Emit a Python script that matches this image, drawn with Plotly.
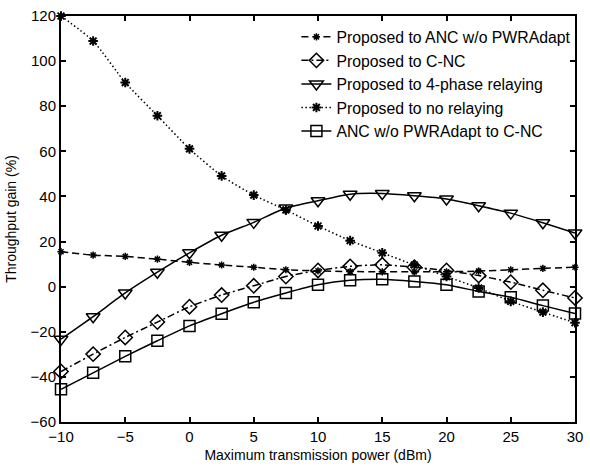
import plotly.graph_objects as go

x = [-10, -7.5, -5, -2.5, 0, 2.5, 5, 7.5, 10, 12.5, 15, 17.5, 20, 22.5, 25, 27.5, 30]

anc_wo_pwr = [15.5, 14.0, 13.4, 12.2, 10.8, 9.6, 8.6, 7.5, 7.0, 6.7, 6.6, 6.6, 6.6, 6.9, 7.5, 8.1, 8.6]
c_nc = [-37.6, -29.9, -22.5, -15.7, -8.9, -3.7, 0.4, 4.5, 7.2, 9.0, 9.7, 8.6, 7.2, 4.9, 2.0, -1.6, -5.0]
four_phase = [-23.3, -13.3, -2.8, 6.4, 15.0, 22.8, 28.5, 34.9, 38.1, 41.0, 41.3, 40.3, 38.9, 35.9, 32.6, 28.3, 23.8]
no_relay = [120.0, 108.9, 90.5, 75.8, 61.1, 49.1, 40.6, 34.0, 26.9, 20.4, 15.0, 9.6, 4.5, -0.6, -6.5, -11.3, -16.0]
anc_to_cnc = [-45.5, -38.2, -30.9, -24.0, -17.4, -12.0, -6.9, -2.8, 0.8, 2.8, 3.3, 2.3, 0.8, -2.1, -4.7, -8.4, -11.9]

names = ["Proposed to ANC w/o PWRAdapt", "Proposed to C-NC", "Proposed to 4-phase relaying",
         "Proposed to no relaying", "ANC w/o PWRAdapt to C-NC"]

FONT = "Liberation Sans, Arial, sans-serif"

fig = go.Figure()
fig.add_trace(go.Scatter(x=x, y=anc_wo_pwr, name=names[0], mode="lines+markers", cliponaxis=False,
                         line=dict(color="black", width=1.5, dash="7px,4px", shape="spline", smoothing=0.6),
                         marker=dict(symbol="asterisk-open", size=6, color="black", line=dict(width=1.5, color="black"))))
fig.add_trace(go.Scatter(x=x, y=c_nc, name=names[1], mode="lines+markers", cliponaxis=False,
                         line=dict(color="black", width=1.5, dash="7px,3px,2px,3px", shape="spline", smoothing=0.6),
                         marker=dict(symbol="diamond-open", size=11, color="black", line=dict(width=1.5, color="black"))))
fig.add_trace(go.Scatter(x=x, y=four_phase, name=names[2], mode="lines+markers", cliponaxis=False,
                         line=dict(color="black", width=1.5, shape="spline", smoothing=0.6),
                         marker=dict(symbol="triangle-down-open", size=12, color="black", line=dict(width=1.5, color="black"))))
fig.add_trace(go.Scatter(x=x, y=no_relay, name=names[3], mode="lines+markers", cliponaxis=False,
                         line=dict(color="black", width=1.5, dash="1.5px,2.5px", shape="spline", smoothing=0.6),
                         marker=dict(symbol="asterisk-open", size=8, color="black", line=dict(width=2, color="black"))))
fig.add_trace(go.Scatter(x=x, y=anc_to_cnc, name=names[4], mode="lines+markers", cliponaxis=False,
                         line=dict(color="black", width=1.5, shape="spline", smoothing=0.6),
                         marker=dict(symbol="square-open", size=11, color="black", line=dict(width=1.5, color="black"))))

axis_common = dict(showline=True, linecolor="black", linewidth=2, mirror="ticks",
                   ticks="inside", ticklen=5, tickwidth=1.5, tickcolor="black",
                   showgrid=False, zeroline=False,
                   tickfont=dict(family=FONT, size=15, color="black"),
                   title_font=dict(family=FONT, size=14, color="black"))

fig.update_xaxes(range=[-10, 30], tickvals=[-10, -5, 0, 5, 10, 15, 20, 25, 30],
                 title_text="Maximum transmission power (dBm)", title_standoff=6, **axis_common)
fig.update_yaxes(range=[-60, 120], tickvals=[-60, -40, -20, 0, 20, 40, 60, 80, 100, 120],
                 title_text="Throughput gain (%)", title_standoff=11, **axis_common)

fig.update_layout(
    width=590, height=468,
    margin=dict(l=61, r=7, t=15, b=44),
    plot_bgcolor="white", paper_bgcolor="white",
    font=dict(family=FONT, color="black"),
    legend=dict(x=0.458, y=0.99, xanchor="left", yanchor="top",
                bgcolor="rgba(255,255,255,0)", borderwidth=0,
                font=dict(family=FONT, size=15.8, color="black"),
                tracegroupgap=0, itemwidth=30),
    showlegend=True,
)

fig.write_html("out.html")
